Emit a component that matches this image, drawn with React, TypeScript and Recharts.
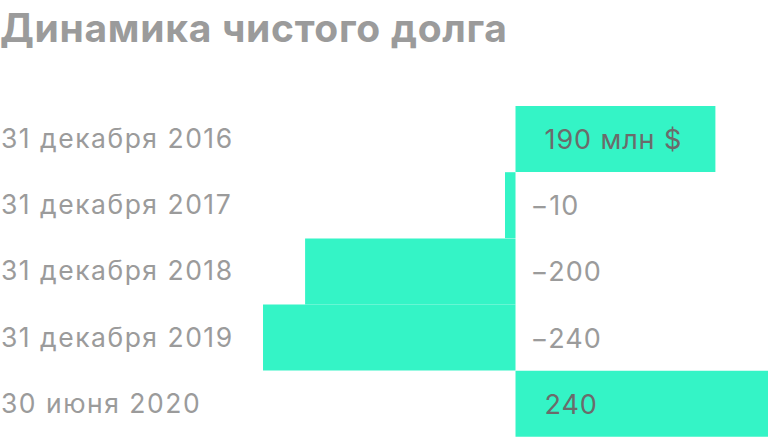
import React from 'react';
import { BarChart, Bar, XAxis, YAxis, LabelList, Cell } from 'recharts';

// Net debt by date, million $
const DATES = [
  '31 декабря 2016',
  '31 декабря 2017',
  '31 декабря 2018',
  '31 декабря 2019',
  '30 июня 2020',
];
const NET_DEBT = [190, -10, -200, -240, 240];

const BAR_COLOR = '#34F4C6';
const FONT = 'Inter, Roboto, sans-serif';

const data = DATES.map((date, i) => ({ date, value: NET_DEBT[i] }));

const fmt = (v: number, i: number) => {
  const s = v < 0 ? `\u2212${Math.abs(v)}` : `${v}`;
  return i === 0 ? `${s} млн $` : s;
};

const DateLabel = (props: any) => {
  const { y, height, value } = props;
  return (
    <text
      x={1}
      y={y + height / 2}
      dy={9}
      textAnchor="start"
      fill="#9b9b9b"
      fontSize={26.5}
      letterSpacing={1.5}
      fontFamily={FONT}
    >
      {value}
    </text>
  );
};

const ValueLabel = (props: any) => {
  const { x, y, width, height, value, index } = props;
  const left = Math.min(x, x + width);
  const right = Math.max(x, x + width);
  const zero = value < 0 ? right : left;
  const pos = value >= 0;
  return (
    <text
      x={zero + (pos ? 29 : 15)}
      y={y + height / 2}
      dy={10}
      fill={pos ? '#6b6b6b' : '#9b9b9b'}
      fontSize={27}
      letterSpacing={0.9}
      fontFamily={FONT}
    >
      {fmt(value, index)}
    </text>
  );
};

export default function App() {
  return (
    <div style={{ position: 'absolute', left: 0, top: 0, width: 768, height: 437, background: '#fff' }}>
      <div
        style={{
          position: 'absolute',
          left: 0,
          top: 8,
          fontFamily: FONT,
          fontWeight: 700,
          fontSize: 39,
          lineHeight: '39px',
          letterSpacing: 0.7,
          color: '#9b9b9b',
          whiteSpace: 'nowrap',
        }}
      >
        Динамика чистого долга
      </div>
      <BarChart
        width={768}
        height={437}
        data={data}
        layout="vertical"
        margin={{ top: 106, right: 0, bottom: 0, left: 0 }}
        barCategoryGap={0}
      >
        <XAxis type="number" domain={[-490, 240]} hide />
        <YAxis type="category" dataKey="date" hide />
        <Bar dataKey="value" fill={BAR_COLOR} isAnimationActive={false}>
          {data.map((d) => (
            <Cell key={d.date} fill={BAR_COLOR} />
          ))}
          <LabelList dataKey="value" content={<ValueLabel />} />
          <LabelList dataKey="date" content={<DateLabel />} />
        </Bar>
      </BarChart>
    </div>
  );
}
